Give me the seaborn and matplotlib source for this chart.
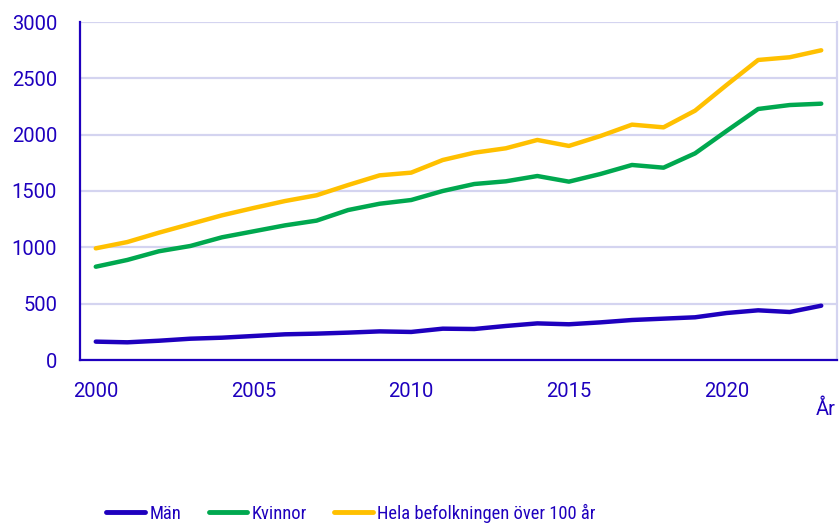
import matplotlib
matplotlib.use("Agg")
import matplotlib.pyplot as plt
from matplotlib import font_manager
import seaborn as sns
import pandas as pd

years = list(range(2000, 2024))
man = [163, 157, 171, 189, 198, 213, 228, 234, 243, 254, 249, 278,
       275, 302, 325, 317, 334, 355, 367, 379, 417, 441, 426, 482]
kvinnor = [828, 888, 965, 1012, 1089, 1142, 1195, 1237, 1331, 1387, 1420, 1500,
           1562, 1586, 1633, 1583, 1651, 1731, 1707, 1834, 2033, 2228, 2263, 2275]
hela = [991, 1047, 1130, 1207, 1284, 1349, 1411, 1462, 1553, 1639, 1663, 1775,
        1840, 1879, 1953, 1900, 1988, 2089, 2065, 2213, 2441, 2663, 2687, 2749]
series_names = ["Män", "Kvinnor", "Hela befolkningen över 100 år"]
y_ticks = [0, 500, 1000, 1500, 2000, 2500, 3000]
x_label_years = [2000, 2005, 2010, 2015, 2020]

TEXT = "#1E00BE"
GRID = "#D4D4F0"
palette = {series_names[0]: "#1E00BE",
           series_names[1]: "#00A84F",
           series_names[2]: "#FFC000"}

sns.set_theme(style="white")
plt.rcParams["font.family"] = ["Roboto", "DejaVu Sans"]

# narrow face for the legend, if one is installed
legend_family = ["Roboto", "DejaVu Sans"]
for fam in ["Liberation Sans Narrow", "Roboto Condensed"]:
    try:
        font_manager.findfont(fam, fallback_to_default=False)
        legend_family = [fam, "DejaVu Sans"]
        break
    except Exception:
        pass

rows = []
for name, vals in zip(series_names, [man, kvinnor, hela]):
    for yr, v in zip(years, vals):
        rows.append({"pos": yr + 0.5, "value": v, "serie": name})
df = pd.DataFrame(rows)

fig = plt.figure(figsize=(8.39, 5.24), dpi=100)
ax = fig.add_axes([80 / 839, 1 - 360 / 524, (837 - 80) / 839, (360 - 22) / 524])

sns.lineplot(data=df, x="pos", y="value", hue="serie", palette=palette,
             hue_order=series_names, linewidth=3.2, ax=ax, legend=False,
             solid_capstyle="round", zorder=3)

ax.set_xlim(2000, 2024)
ax.set_ylim(0, 3000)
ax.set_yticks(y_ticks)
ax.set_yticklabels([str(t) for t in y_ticks])
ax.yaxis.grid(True, color=GRID, linewidth=1.6, zorder=0)
ax.xaxis.grid(False)

# boundary ticks on the category axis, labels centred in each year
ax.set_xticks(x_label_years)
ax.set_xticklabels([])
ax.set_xticks([y + 0.5 for y in x_label_years], minor=True)
ax.set_xticklabels([str(y) for y in x_label_years], minor=True)
ax.tick_params(axis="x", which="major", length=5, width=1.5, color=TEXT, direction="out")
ax.tick_params(axis="x", which="minor", length=0, pad=15.5, labelsize=14.5, labelcolor=TEXT)
ax.tick_params(axis="y", length=6, width=1.5, color=TEXT, pad=10.5,
               labelsize=14.5, labelcolor=TEXT)
ax.set_xlabel("")
ax.set_ylabel("")

for side in ["left", "bottom"]:
    ax.spines[side].set_color(TEXT)
    ax.spines[side].set_linewidth(1.6)
ax.spines["top"].set_visible(False)
ax.spines["right"].set_visible(True)
ax.spines["right"].set_color(GRID)
ax.spines["right"].set_linewidth(1.6)

fig.text(836 / 839, 1 - 409 / 524, "År", ha="right", va="center",
         fontsize=14.5, color=TEXT)

handles = [plt.Line2D([0], [0], color=palette[n], linewidth=3.5) for n in series_names]
leg = fig.legend(handles, series_names, loc="center", ncol=3,
                 bbox_to_anchor=(351 / 839, 1 - 513 / 524), frameon=False,
                 handlelength=2.1, handletextpad=0.22, columnspacing=1.5,
                 prop={"family": legend_family, "size": 13.3})
for t in leg.get_texts():
    t.set_color(TEXT)

fig.savefig("out.png", dpi=100)
